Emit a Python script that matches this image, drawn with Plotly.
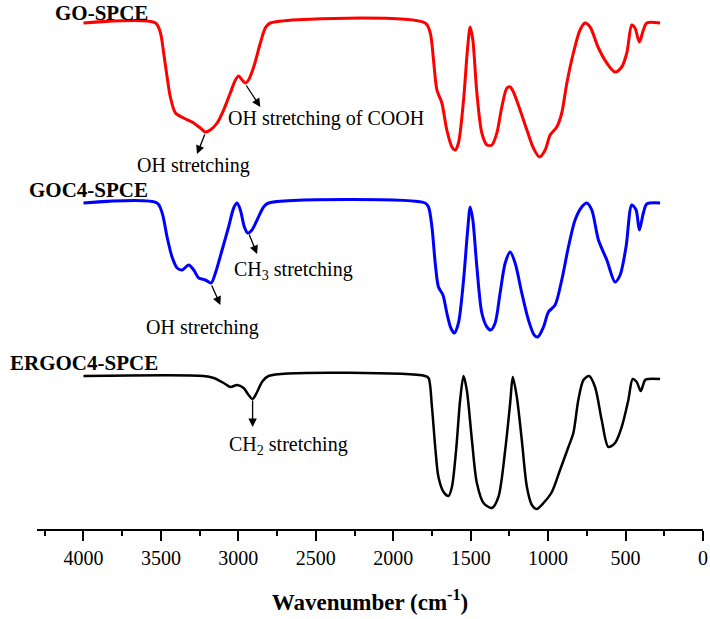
import plotly.graph_objects as go

# ---- data (intensity in arbitrary units, spectra offset) ----
go_wn = [4000, 3535, 3503, 3482, 3460, 3439, 3406, 3353, 3299, 3245, 3213, 3181, 3137, 3095,
         3052, 3019, 2998, 2976, 2955, 2934, 2901, 2858, 2826, 2794,
         1794, 1761, 1740, 1718, 1686, 1654, 1621, 1600, 1579, 1546, 1521, 1503, 1486, 1460,
         1428, 1395, 1363, 1331, 1299, 1266, 1245, 1224, 1181, 1137, 1095, 1056, 1019, 987,
         944, 912, 879, 837, 794, 761, 729, 675, 621, 568, 525, 492, 460, 439, 411, 385, 363, 277]
go_t = [506, 506, 496, 476, 452, 432, 416, 411, 407, 401, 397, 399, 406, 419,
        436, 449, 453, 449, 446, 449, 462, 486, 501, 506,
        506, 496, 469, 439, 426, 399, 382, 379, 386, 429, 479, 502, 489, 436,
        396, 384, 384, 396, 422, 441, 442, 437, 419, 399, 381, 372, 379, 394,
        402, 416, 446, 476, 499, 506, 502, 481, 466, 457, 462, 476, 504, 501, 487, 499, 506, 506]

goc4_wn = [4000, 3525, 3492, 3460, 3428, 3395, 3363, 3321, 3288, 3256, 3213, 3176, 3148, 3105,
           3063, 3030, 3008, 2987, 2961, 2940, 2912, 2879, 2837, 2805,
           1794, 1772, 1750, 1729, 1708, 1679, 1654, 1628, 1606, 1579, 1546, 1521, 1503, 1486,
           1460, 1428, 1395, 1370, 1342, 1310, 1277, 1245, 1213, 1170, 1127, 1090, 1066, 1030,
           998, 955, 912, 869, 826, 783, 750, 718, 675, 621, 568, 535, 497, 460, 432, 411, 385, 363, 277]
goc4_t = [326, 326, 316, 292, 272, 261, 259, 264, 259, 251, 249, 246, 256, 279,
          302, 321, 326, 319, 302, 296, 299, 309, 322, 326,
          326, 322, 302, 266, 242, 234, 216, 201, 196, 206, 249, 296, 322, 309,
          262, 216, 202, 199, 206, 236, 266, 277, 266, 236, 209, 194, 192, 202,
          217, 224, 249, 282, 309, 322, 326, 319, 289, 269, 247, 254, 282, 324, 319, 299, 316, 325, 326]

ergoc4_wn = [4000, 3224, 3159, 3095, 3052, 3008, 2966, 2934, 2908, 2879, 2847, 2805,
             1794, 1772, 1750, 1729, 1708, 1675, 1643, 1621, 1594, 1568, 1546, 1525, 1492,
             1460, 1417, 1363, 1321, 1277, 1245, 1228, 1202, 1170, 1137, 1105, 1073, 1030,
             976, 923, 869, 837, 805, 772, 735, 697, 654, 611, 568, 525, 482, 454, 428, 402,
             374, 353, 277]
ergoc4_t = [153, 153, 151, 146, 142, 144, 141, 134, 130, 137, 147, 153,
            153, 151, 122, 82, 52, 37, 33, 42, 79, 129, 153, 139, 89,
            46, 26, 21, 32, 79, 126, 152, 132, 89, 42, 24, 20, 26,
            37, 59, 82, 96, 129, 149, 153, 142, 109, 82, 86, 102, 129, 150, 147, 138,
            149, 150, 150]

series_names = ["GO-SPCE", "GOC4-SPCE", "ERGOC4-SPCE"]
series_colors = ["#ff0000", "#0000ff", "#000000"]

x_ticks = [4000, 3500, 3000, 2500, 2000, 1500, 1000, 500, 0]

FONT = "Liberation Serif, Times New Roman, serif"

fig = go.Figure()
for wn, t, name, col, w in [(go_wn, go_t, series_names[0], series_colors[0], 3),
                            (goc4_wn, goc4_t, series_names[1], series_colors[1], 3),
                            (ergoc4_wn, ergoc4_t, series_names[2], series_colors[2], 2.5)]:
    fig.add_trace(go.Scatter(x=wn, y=t, mode="lines", name=name,
                             line=dict(color=col, width=w, shape="spline", smoothing=0.8),
                             showlegend=False, hoverinfo="skip"))

# series labels
label_pos = [(3568, 516), (3568, 339), (3503, 166)]
for name, (lx, ly) in zip(series_names, label_pos):
    fig.add_annotation(x=lx, y=ly, xref="x", yref="y", text=f"<b>{name}</b>",
                       showarrow=False, xanchor="right", yanchor="middle",
                       font=dict(family=FONT, size=21, color="black"))

# band annotations (text)
band_texts = [("OH stretching", 3290, 364),
              ("OH stretching of COOH", 2437, 411),
              ("OH stretching", 3229, 202),
              ("CH<sub>3</sub> stretching", 2645, 259),
              ("CH<sub>2</sub> stretching", 2677, 84)]
for txt, tx, ty in band_texts:
    fig.add_annotation(x=tx, y=ty, xref="x", yref="y", text=txt, showarrow=False,
                       xanchor="center", yanchor="middle",
                       font=dict(family=FONT, size=20, color="black"))

# arrows (tail -> head)
arrows = [((3213, 396), (3267, 375)),
          ((2955, 445), (2858, 422)),
          ((3176, 245), (3116, 224)),
          ((2934, 296), (2879, 275)),
          ((2908, 130), (2908, 102))]
for (tx, ty), (hx, hy) in arrows:
    fig.add_annotation(x=hx, y=hy, ax=tx, ay=ty, xref="x", yref="y", axref="x", ayref="y",
                       text="", showarrow=True, arrowhead=2, arrowsize=1.3, arrowwidth=1.3,
                       arrowcolor="black")

fig.update_layout(
    width=710, height=619,
    margin=dict(l=37, r=7, t=0, b=90),
    plot_bgcolor="white", paper_bgcolor="white",
    font=dict(family=FONT, color="black"),
    xaxis=dict(range=[4300, 0], tickvals=x_ticks, ticktext=[str(v) for v in x_ticks],
               showline=True, linecolor="black", linewidth=2,
               ticks="outside", ticklen=10, tickwidth=2, tickcolor="black",
               minor=dict(dtick=250, tick0=0, ticks="outside", ticklen=5, tickwidth=2,
                          tickcolor="black", showgrid=False),
               showgrid=False, zeroline=False,
               tickfont=dict(family=FONT, size=20, color="black"),
               ticklabelstandoff=0,
               title=dict(text="<b>Wavenumber (cm<sup>-1</sup>)</b>", standoff=26,
                          font=dict(family=FONT, size=23, color="black"))),
    yaxis=dict(range=[0, 529], visible=False, showgrid=False, zeroline=False),
)

fig.write_html("out.html", config={"displayModeBar": False},
               post_script="document.body.style.margin='0';document.body.style.overflow='hidden';")
